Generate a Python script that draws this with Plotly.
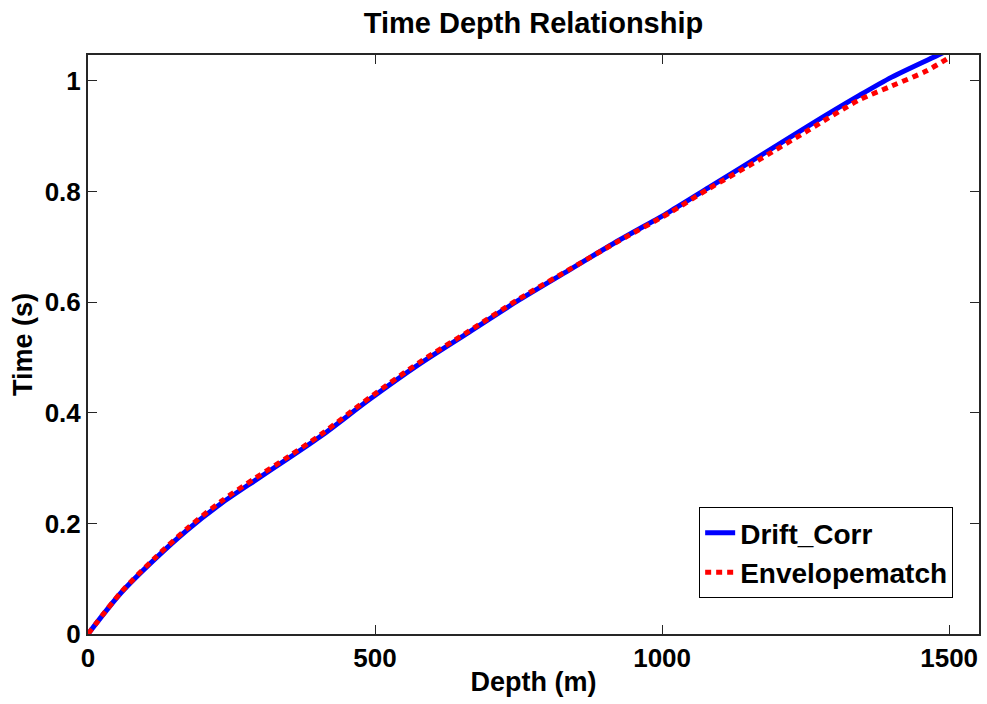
import plotly.graph_objects as go

# Drift_Corr
drift_depth = [0, 58, 116, 174, 232, 290, 348, 406, 490, 577, 664, 751, 838, 925,
               1012, 1081, 1168, 1255, 1342, 1400, 1481, 1495]
drift_time = [0, 0.075, 0.135, 0.189, 0.236, 0.277, 0.317, 0.358, 0.424, 0.488, 0.546,
              0.604, 0.658, 0.712, 0.763, 0.807, 0.863, 0.919, 0.973, 1.007, 1.047, 1.054]

# Envelopematch
env_depth = [0, 58, 116, 174, 232, 290, 348, 406, 490, 577, 664, 751, 838, 925,
             1012, 1081, 1168, 1255, 1342, 1400, 1460, 1501]
env_time = [0, 0.076, 0.137, 0.192, 0.240, 0.281, 0.320, 0.361, 0.427, 0.491, 0.548,
            0.606, 0.659, 0.711, 0.761, 0.805, 0.857, 0.911, 0.965, 0.991, 1.018, 1.043]

x_ticks = [0, 500, 1000, 1500]
y_ticks = [0, 0.2, 0.4, 0.6, 0.8, 1]
y_tick_text = ["0", "0.2", "0.4", "0.6", "0.8", "1"]

FONT = "Arial, Liberation Sans, Helvetica, sans-serif"

fig = go.Figure()
fig.add_trace(go.Scatter(x=drift_depth, y=drift_time, mode="lines", name="Drift_Corr",
                         line=dict(color="#0000ff", width=5, shape="spline", smoothing=0.8)))
fig.add_trace(go.Scatter(x=env_depth, y=env_time, mode="lines", name="Envelopematch",
                         line=dict(color="#ff0000", width=5, dash="6px,5px",
                                   shape="spline", smoothing=0.8)))

axis_common = dict(showgrid=False, zeroline=False, showline=True, linecolor="#262626",
                   linewidth=2, mirror="ticks", ticks="inside", ticklen=9, tickwidth=1,
                   tickcolor="#262626",
                   tickfont=dict(family=FONT, size=26, color="black", weight="bold"))

fig.update_layout(
    width=987, height=704,
    margin=dict(l=88, r=6, t=55, b=70),
    paper_bgcolor="white", plot_bgcolor="white",
    title=dict(text="Time Depth Relationship", x=0.5, xref="paper", xanchor="center",
               y=1 - 23 / 704, yref="container", yanchor="middle",
               font=dict(family=FONT, size=29, color="black", weight="bold")),
    xaxis=dict(range=[0, 1552], tickvals=x_ticks,
               title=dict(text="Depth (m)", standoff=0,
                          font=dict(family=FONT, size=27, color="black", weight="bold")),
               **axis_common),
    yaxis=dict(range=[0, 1.047], tickvals=y_ticks, ticktext=y_tick_text,
               title=dict(text="Time (s)", standoff=4,
                          font=dict(family=FONT, size=27, color="black", weight="bold")),
               **axis_common),
    legend=dict(x=0.971, xanchor="right", y=0.062, yanchor="bottom",
                bgcolor="white", bordercolor="black", borderwidth=1,
                font=dict(family=FONT, size=28, color="black", weight="bold"),
                tracegroupgap=0, itemwidth=30),
    showlegend=True,
)

fig.write_html("out.html")
